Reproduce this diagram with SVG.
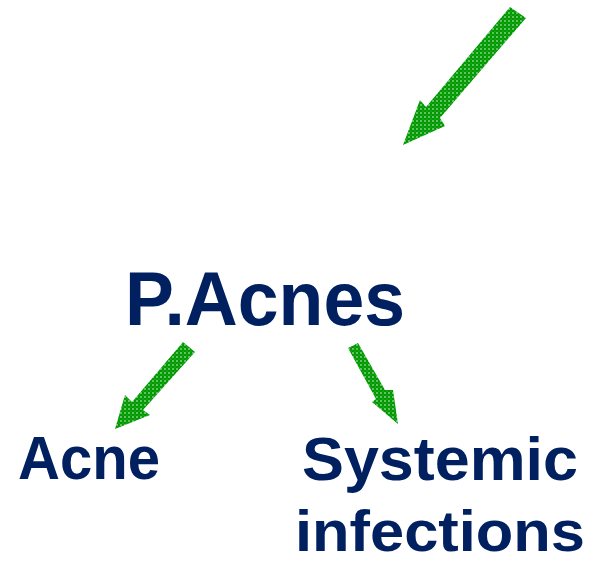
<svg xmlns="http://www.w3.org/2000/svg" width="594" height="563" viewBox="0 0 594 563">
<defs>
<pattern id="dots" width="4" height="4" patternUnits="userSpaceOnUse">
<rect width="4" height="4" fill="#009900"/>
<circle cx="1" cy="1" r="0.75" fill="#f0fff0"/>
<circle cx="3" cy="3" r="0.5" fill="#66c266"/>
</pattern>
<style>
.lbl{font-family:"Liberation Sans",Arial,sans-serif;font-weight:bold;fill:#002060;}
.arr{fill:url(#dots);}
</style>
</defs>
<rect width="594" height="563" fill="#ffffff"/>
<g id="connectors">
<polygon class="arr" points="510,7 526,18 440,118 445,126 403,145 420,100 426,107"/>
<polygon class="arr" points="183,342 195,352 143,410 150,415 115,429 125,395 132,402"/>
<polygon class="arr" points="348,348 358,343 385,390 393,390 398,424 372,402 376,399"/>
</g>
<g id="node-pacnes">
<text class="lbl" x="125" y="325" font-size="76" textLength="280" lengthAdjust="spacingAndGlyphs">P.Acnes</text>
</g>
<g id="node-acne">
<text class="lbl" x="18" y="479" font-size="62" textLength="142" lengthAdjust="spacingAndGlyphs">Acne</text>
</g>
<g id="node-systemic">
<text class="lbl" x="302" y="480" font-size="62" textLength="276" lengthAdjust="spacingAndGlyphs">Systemic</text>
<text class="lbl" x="295" y="551" font-size="58" textLength="290" lengthAdjust="spacingAndGlyphs">infections</text>
</g>
</svg>
